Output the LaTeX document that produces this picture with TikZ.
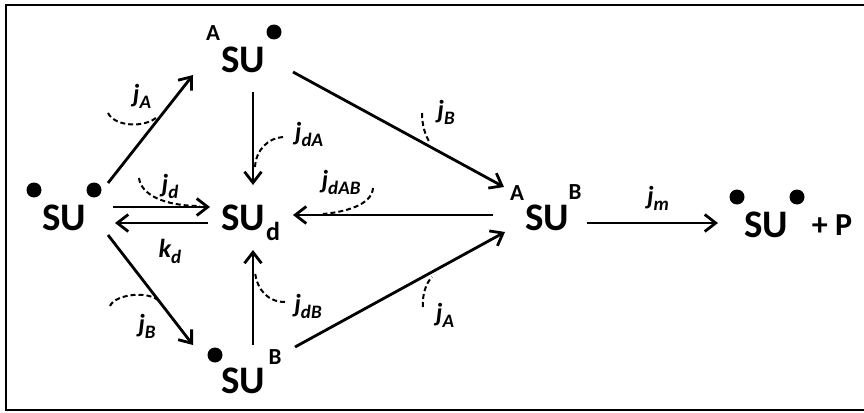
\documentclass[tikz,border=0pt]{standalone}
\usepackage{fontspec}
\setmainfont{Carlito}
\usetikzlibrary{arrows.meta, calc}

\newcommand{\rlab}[2]{#1\raisebox{-6pt}{\fontsize{19}{19}\selectfont #2}}

\begin{document}
\begin{tikzpicture}[x=1pt, y=-1pt,
    spec/.style={font=\fontsize{39}{39}\selectfont\bfseries, inner sep=0pt},
    sup/.style={font=\fontsize{23}{23}\selectfont\bfseries, inner sep=0pt},
    rate/.style={font=\fontsize{26}{26}\selectfont\bfseries\itshape, inner sep=0pt},
    dot/.style={circle, fill=black, inner sep=0pt, minimum size=15pt},
    arr/.style={line width=2.8pt, -{Straight Barb[length=11pt, width=17pt]}},
    cat/.style={line width=2pt, dash pattern=on 5pt off 3pt}]
    \useasboundingbox (0,0) rectangle (864,412);
    \draw[line width=2pt] (870,5) -| (6,410) -- (870,410);

    % Especes
    \node (su0) [spec] at (64,218) {SU};
    \node (su0l) [dot] at ($(su0)+(-30,-28)$) {};
    \node (su0r) [dot] at ($(su0)+(30,-28)$) {};
    \node (asu) [spec] at (243,60) {SU};
    \node (asuA) [sup] at ($(asu)+(-30,-27)$) {A};
    \node (asur) [dot] at ($(asu)+(31,-28)$) {};
    \node (sud) [spec] at (243,218) {SU};
    \node (sudd) [sup, font=\fontsize{26}{26}\selectfont\bfseries] at ($(sud)+(30,13)$) {d};
    \node (sub) [spec] at (243,381) {SU};
    \node (subl) [dot] at ($(sub)+(-28,-26)$) {};
    \node (subB) [sup] at ($(sub)+(32,-24)$) {B};
    \node (asub) [spec] at (547,218) {SU};
    \node (asubA) [sup] at ($(asub)+(-30,-25)$) {A};
    \node (asubB) [sup] at ($(asub)+(28,-26)$) {B};
    \node (su1) [spec] at (766,225) {SU};
    \node (su1l) [dot] at ($(su1)+(-29,-28)$) {};
    \node (su1r) [dot] at ($(su1)+(31,-28)$) {};
    \node (prod) [spec, font=\fontsize{32}{32}\selectfont\bfseries] at (832,225) {+ P};

    % Reactions
    \draw[arr] ($(su0)+(44,-35)$) -- ($(asu)+(-50,15)$);
    \draw[arr] ($(su0)+(49,-11)$) -- ($(sud)+(-33,-11)$);
    \draw[arr] ($(sud)+(-35,5)$) -- ($(su0)+(51,5)$);
    \draw[arr] ($(su0)+(44,17)$) -- ($(sub)+(-50,-36)$);
    \draw[arr] ($(asu)+(10,32)$) -- ($(sud)+(10,-33)$);
    \draw[arr] ($(sub)+(10,-36)$) -- ($(sud)+(10,32)$);
    \draw[arr] ($(asu)+(50,12)$) -- ($(asub)+(-43,-31)$);
    \draw[arr] ($(asub)+(-54,-3)$) -- ($(sud)+(50,-3)$);
    \draw[arr] ($(sub)+(52,-34)$) -- ($(asub)+(-42,14)$);
    \draw[arr] ($(asub)+(40,5)$) -- ($(su1)+(-48,-2)$);

    % Vitesses
    \node (jA1) [rate] at (142,96) {\rlab{j}{A}};
    \node (jd) [rate] at (170,186) {\rlab{j}{d}};
    \node (kd) [rate] at (170,251) {\rlab{k}{d}};
    \node (jB1) [rate] at (147,326) {\rlab{j}{B}};
    \node (jdA) [rate] at (309,134) {\rlab{j}{dA}};
    \node (jdB) [rate] at (308,306) {\rlab{j}{dB}};
    \node (jB2) [rate] at (446,112) {\rlab{j}{B}};
    \node (jdAB) [rate] at (341,182) {\rlab{j}{dAB}};
    \node (jA2) [rate] at (445,315) {\rlab{j}{A}};
    \node (jm) [rate] at (658,198) {\rlab{j}{m}};

    % Catalyse
    \draw[cat] (108,113) .. controls (115,127) and (145,128) .. (157,117);
    \draw[cat] (139,178) .. controls (141,195) and (165,206) .. (200,206);
    \draw[cat] (110,306) .. controls (115,294) and (150,290) .. (160,302);
    \draw[cat] (283,137) .. controls (268,138) and (256,150) .. (255,167);
    \draw[cat] (285,302) .. controls (268,302) and (257,290) .. (255,272);
    \draw[cat] (422,113) .. controls (422,125) and (425,135) .. (430,143);
    \draw[cat] (373,188) .. controls (372,205) and (345,212) .. (323,214);
    \draw[cat] (423,307) .. controls (422,295) and (426,283) .. (432,277);
\end{tikzpicture}
\end{document}
